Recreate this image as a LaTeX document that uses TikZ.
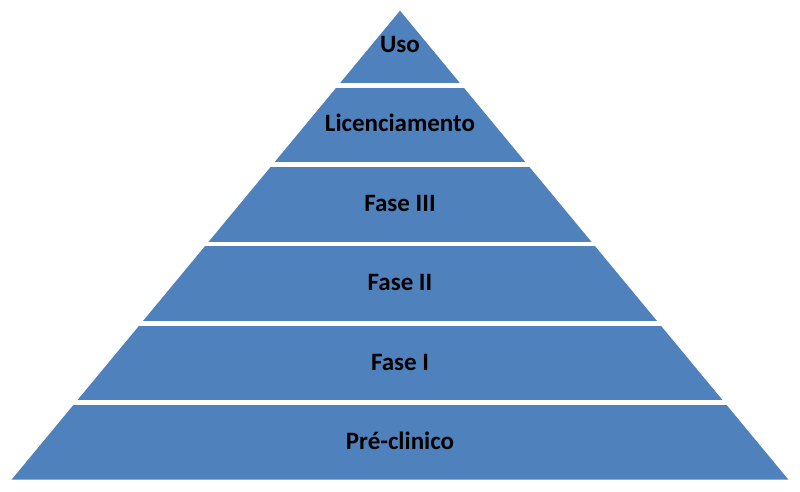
\documentclass[tikz,border=0pt]{standalone}
\usepackage{fontspec}
\setmainfont{Carlito}

\definecolor{layerblue}{RGB}{79,129,189}

\tikzset{
  layer/.style={fill=layerblue},
  layertext/.style={font=\fontsize{25}{30}\selectfont\bfseries, text=black, anchor=base, inner sep=0pt},
}

\begin{document}
\begin{tikzpicture}[x=1pt,y=-1pt]
\useasboundingbox (0,0) rectangle (800,491);

% pyramid corners
\coordinate (apex) at (400,10.7);
\coordinate (baseL) at (11.7,479.5);
\coordinate (baseR) at (788.3,479.5);

% bands, cut by the triangle
\begin{scope}
  \clip (apex) -- (baseL) -- (baseR) -- cycle;
  \foreach \i in {0,...,5} {
    \fill[layer] (0,{87.5+79.4*(\i-1)}) rectangle (800,{82.7+79.4*\i});
  }
\end{scope}

% labels
\foreach \name/\txt [count=\i from 0] in {uso/Uso, lic/Licenciamento, fasetres/Fase III, fasedois/Fase II, faseum/Fase I, pre/Pré-clinico} {
  \node[layertext] (\name) at (400,{85.1+79.4*(\i-1)+39.7+7}) {\txt};
}
\end{tikzpicture}
\end{document}
